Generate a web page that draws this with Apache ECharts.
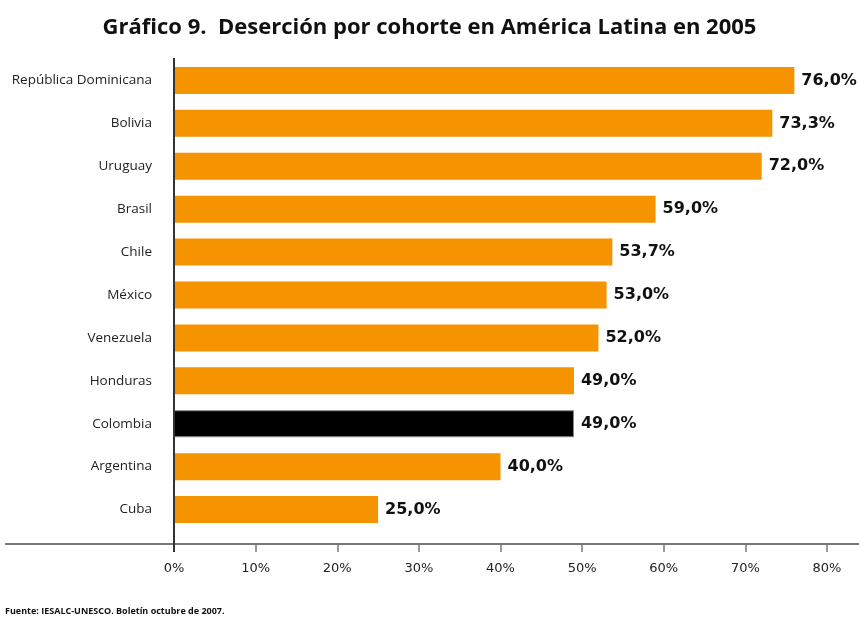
<!DOCTYPE html>
<html>
<head>
<meta charset="utf-8">
<title>Deserción por cohorte</title>
<script src="https://cdn.jsdelivr.net/npm/echarts@6/dist/echarts.min.js"></script>
<style>
  html, body { margin: 0; padding: 0; background: #fff; }
  #chart { width: 859px; height: 618px; }
</style>
</head>
<body>
<div id="chart"></div>
<script>
// datos (de arriba a abajo)
const paises = ["República Dominicana", "Bolivia", "Uruguay", "Brasil", "Chile", "México",
  "Venezuela", "Honduras", "Colombia", "Argentina", "Cuba"];
const desercion = [76.0, 73.3, 72.0, 59.0, 53.7, 53.0, 52.0, 49.0, 49.0, 40.0, 25.0];
const destacado = "Colombia";
const ticksX = [0, 10, 20, 30, 40, 50, 60, 70, 80];

const naranja = "#F59300";
const font = "Open Sans";
const fontAncha = "DejaVu Sans";

const chart = echarts.init(document.getElementById("chart"));

// category axis goes bottom->top, so reverse
const cats = paises.slice().reverse();
const vals = desercion.slice().reverse().map((v, i) => ({
  value: v,
  itemStyle: cats[i] === destacado
    ? { color: "#000", borderColor: "#888", borderWidth: 1 }
    : { color: naranja }
}));

const option = {
  animation: false,
  title: {
    text: "Gráfico 9.  Deserción por cohorte en América Latina en 2005",
    left: "center",
    top: 12,
    textStyle: { fontFamily: font, fontWeight: "bold", fontSize: 22, color: "#111" }
  },
  grid: { left: 174, right: 32, top: 59, bottom: 87 },
  xAxis: {
    type: "value",
    min: ticksX[0],
    max: ticksX[ticksX.length - 1],
    interval: 10,
    offset: 13,
    axisLine: { show: false },
    axisTick: { show: true, length: 8, lineStyle: { color: "#9a9a9a", width: 2 } },
    splitLine: { show: false },
    axisLabel: {
      margin: 18,
      fontFamily: fontAncha,
      fontSize: 13,
      color: "#222",
      formatter: v => v + "%"
    }
  },
  yAxis: {
    type: "category",
    data: cats,
    axisLine: { show: false },
    axisTick: { show: false },
    axisLabel: { margin: 22, fontFamily: font, fontSize: 13.5, color: "#222" }
  },
  series: [{
    type: "bar",
    data: vals,
    barWidth: 27,
    label: {
      show: true,
      position: "right",
      distance: 7,
      fontFamily: fontAncha,
      fontWeight: "bold",
      fontSize: 16,
      color: "#111",
      formatter: p => p.value.toFixed(1).replace(".", ",") + "%"
    }
  }],
  graphic: [
    // horizontal axis line spanning the full width
    { type: "line", shape: { x1: 5, y1: 544, x2: 859, y2: 544 },
      style: { stroke: "#777", lineWidth: 2 }, z: 10 },
    // vertical axis line
    { type: "line", shape: { x1: 174, y1: 58, x2: 174, y2: 552 },
      style: { stroke: "#333", lineWidth: 2 }, z: 11 },
    { type: "text", left: 5, top: 607,
      style: { text: "Fuente: IESALC-UNESCO. Boletín octubre de 2007.",
        font: "bold 9px " + font, fill: "#111" } }
  ]
};

chart.setOption(option);
</script>
</body>
</html>
